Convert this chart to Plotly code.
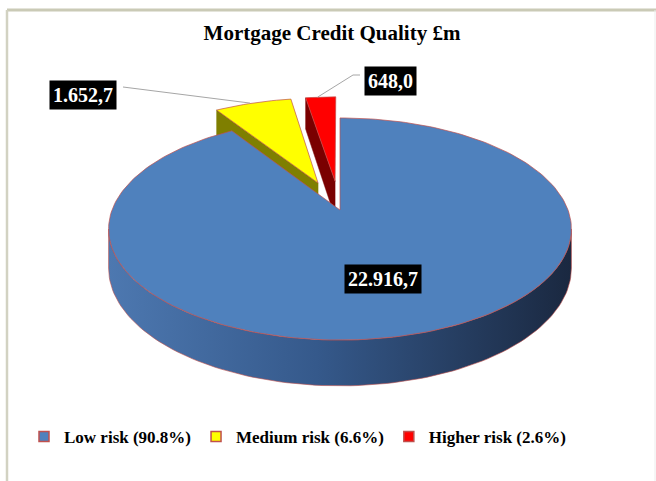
import numpy as np
import plotly.graph_objects as go

# ---------------- data ----------------
title_text = "Mortgage Credit Quality £m"
categories = ["Low risk", "Medium risk", "Higher risk"]
values = [22916.7, 1652.7, 648.0]
value_labels = ["22.916,7", "1.652,7", "648,0"]
legend_labels = ["Low risk (90.8%)", "Medium risk (6.6%)", "Higher risk (2.6%)"]
explode = [0.0, 0.28, 0.28]

# ---------------- styling ----------------
top_colors = ["#4f81bd", "#ffff00", "#ff0000"]
wall_colors = ["#2b4870", "#7f7f00", "#7a0000"]
side_scale = [[0, "#4d78b0"], [0.45, "#35598b"], [1, "#1a2840"]]
edge_color = "#c0504d"
FONT = "Liberation Serif"

W, H = 656, 481
CX, CY = 340.0, 210.0          # pie centre (pixels)
A, B, K = 228.0, 107.8, 0.171  # ellipse radii and perspective factor
DEPTH = 38.0                   # thickness of the 3D pie


def proj(u, s, drop=0.0):
    d = 1.0 - K * s
    return CX + A * u / d, CY + (B * s + drop) / d


total = float(sum(values))
fracs = np.array(values) / total
ends = np.cumsum(fracs) * 2 * np.pi
starts = ends - fracs * 2 * np.pi
mids = (starts + ends) / 2

th_a = np.arccos(-K)
th_b = 2 * np.pi - th_a

fig = go.Figure()


def arc_pts(ou, os_, t0, t1, drop=0.0, n=120):
    t = np.linspace(t0, t1, max(2, int(n * (t1 - t0) / np.pi) + 2))
    return proj(ou + np.sin(t), os_ - np.cos(t), drop)


order = sorted(range(len(values)), key=lambda i: -np.cos(mids[i]) * 0.5 - explode[i] * np.cos(mids[i]))
for i in order:
    t0, t1, m, e = starts[i], ends[i], mids[i], explode[i]
    ou, os_ = e * np.sin(m), -e * np.cos(m)
    ax_, ay_ = proj(ou, os_)
    bx_, by_ = proj(ou, os_, DEPTH)
    # radial walls
    for th, vis in ((t0, np.sin(t0) < -1e-6), (t1, np.sin(t1) > 1e-6)):
        if vis:
            px, py = proj(ou + np.sin(th), os_ - np.cos(th))
            qx, qy = proj(ou + np.sin(th), os_ - np.cos(th), DEPTH)
            fig.add_trace(go.Scatter(x=[ax_, px, qx, bx_, ax_], y=[ay_, py, qy, by_, ay_],
                                     fill="toself", fillcolor=wall_colors[i], mode="lines",
                                     line=dict(color=wall_colors[i], width=0.5),
                                     hoverinfo="skip", showlegend=False))
    # outer side
    s0, s1 = max(t0, th_a), min(t1, th_b)
    if s1 > s0:
        tx, ty = arc_pts(ou, os_, s0, s1)
        bx, by = arc_pts(ou, os_, s0, s1, DEPTH)
        fig.add_trace(go.Scatter(x=np.concatenate([tx, bx[::-1], tx[:1]]),
                                 y=np.concatenate([ty, by[::-1], ty[:1]]),
                                 fill="toself", mode="lines",
                                 fillgradient=dict(type="horizontal", colorscale=side_scale),
                                 line=dict(color=edge_color, width=0.6),
                                 hoverinfo="skip", showlegend=False))
    # top face
    tx, ty = arc_pts(ou, os_, t0, t1)
    fig.add_trace(go.Scatter(x=np.concatenate([[ax_], tx, [ax_]]),
                             y=np.concatenate([[ay_], ty, [ay_]]),
                             fill="toself", fillcolor=top_colors[i], mode="lines",
                             line=dict(color=edge_color, width=0.7),
                             name=categories[i], hoverinfo="skip", showlegend=False))

# leader lines and labels
outside_label_xy = {1: (83, 95), 2: (390, 81)}
leader_start = {1: [(123, 87)], 2: [(360, 75), (353, 75)]}
annotations = []
for i in range(len(values)):
    m, e = mids[i], explode[i]
    ou, os_ = e * np.sin(m), -e * np.cos(m)
    if i in outside_label_xy:
        lx, ly = outside_label_xy[i]
        px, py = proj(ou + np.sin(m), os_ - np.cos(m))
        pts = leader_start[i] + [(px - 3, py)]
        fig.add_trace(go.Scatter(x=[p[0] for p in pts], y=[p[1] for p in pts], mode="lines",
                                 line=dict(color="#a6a6a6", width=1),
                                 hoverinfo="skip", showlegend=False))
    else:
        lx, ly = proj(ou + 0.6 * np.sin(m), os_ - 0.6 * np.cos(m))
    annotations.append(dict(x=lx, y=ly, xref="x", yref="y", text=value_labels[i], showarrow=False,
                            bgcolor="black", borderpad=3,
                            font=dict(family=FONT, size=20, color="white", weight="bold")))

# legend entries
for i in range(len(values)):
    fig.add_trace(go.Scatter(x=[None], y=[None], mode="markers", name=legend_labels[i],
                             marker=dict(symbol="square", size=10, color=top_colors[i],
                                         line=dict(color=edge_color, width=1.5))))

fig.update_layout(
    width=W, height=H,
    margin=dict(l=0, r=0, t=0, b=0),
    paper_bgcolor="white", plot_bgcolor="white",
    xaxis=dict(range=[0, W], visible=False, fixedrange=True),
    yaxis=dict(range=[H, 0], visible=False, fixedrange=True),
    title=dict(text=title_text, x=332 / W, xanchor="center", y=1 - 33 / H, yanchor="middle",
               yref="container", font=dict(family=FONT, size=21, color="black", weight="bold")),
    legend=dict(orientation="h", x=24 / W, xanchor="left", y=1 - 437 / H, yanchor="middle",
                font=dict(family=FONT, size=17, color="black", weight="bold"),
                itemwidth=30, bgcolor="rgba(0,0,0,0)"),
    annotations=annotations,
    shapes=[
        dict(type="line", xref="paper", yref="paper", x0=7 / W, x1=1, y0=1 - 10 / H, y1=1 - 10 / H,
             line=dict(color="#cacab6", width=3)),
        dict(type="line", xref="paper", yref="paper", x0=7 / W, x1=7 / W, y0=0, y1=1 - 10 / H,
             line=dict(color="#d2d2c2", width=2.5)),
        dict(type="line", xref="paper", yref="paper", x0=655 / W, x1=655 / W, y0=0, y1=1 - 10 / H,
             line=dict(color="#ececec", width=1)),
    ],
)

fig.write_html("out.html", config={"displayModeBar": False},
               post_script="document.body.style.margin='0';")
